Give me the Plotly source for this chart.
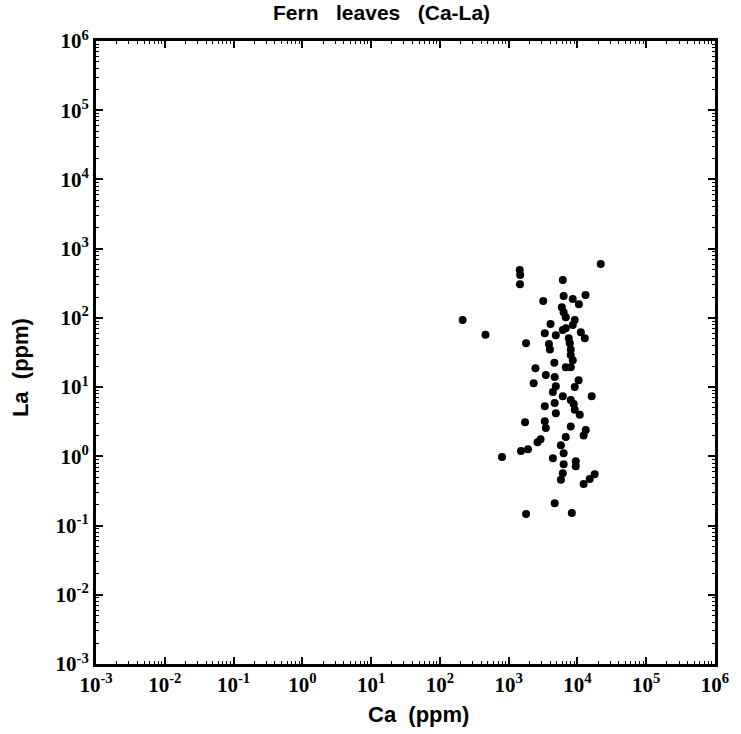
import plotly.graph_objects as go

# Ca and La concentrations (ppm)
ca = [21800, 1450, 1470, 1460, 6120, 6300, 13100, 8550, 3180, 10500,
      5930, 6300, 6760, 9130, 214, 4060, 8550, 6120, 6760, 3350,
      460, 11200, 12800, 4850, 7480, 1790, 3850, 3980, 7740, 8000,
      8000, 8550, 4620, 6760, 8000, 2450, 3470, 4670, 2310, 4850,
      10400, 9130, 4390, 6120, 16100, 8000, 8830, 3350, 4670, 4850,
      9130, 10800, 1730, 3350, 3470, 8000, 13200, 12300, 6760, 2630,
      2910, 5750, 1510, 1910, 6300, 800, 4390, 9460, 9460, 6300,
      6120, 17800, 15100, 5750, 12300, 4670, 8280, 1790]
la = [600, 490, 415, 307, 352, 207, 214, 187, 175, 158,
      143, 121, 102, 93, 93, 81.5, 79, 66.7, 71, 60,
      57, 62, 51, 56, 51, 43, 42, 35, 43, 35,
      29, 24.5, 22.4, 19.4, 19.4, 18.8, 14.9, 14, 11.4, 10.3,
      12.6, 10, 8.5, 7.4, 7.4, 6.5, 5.7, 5.3, 5.9, 4.2,
      4.7, 4.0, 3.1, 3.2, 2.57, 2.7, 2.4, 2.0, 1.9, 1.6,
      1.77, 1.45, 1.19, 1.27, 1.11, 0.98, 0.94, 0.85, 0.72, 0.77,
      0.57, 0.55, 0.47, 0.46, 0.40, 0.21, 0.152, 0.147]

exps = list(range(-3, 7))
tick_vals = [10.0 ** e for e in exps]
tick_text = ["10<sup>%d</sup>" % e for e in exps]

fig = go.Figure()
fig.add_trace(go.Scatter(x=ca, y=la, mode="markers",
                         marker=dict(color="black", size=8), showlegend=False))

tickfont = dict(family="Liberation Serif, Times New Roman, serif", size=21, color="black", weight="bold")
axis_common = dict(
    type="log", range=[-3, 6],
    tickvals=tick_vals, ticktext=tick_text, tickfont=tickfont,
    ticks="inside", ticklen=7, tickwidth=2, tickcolor="black",
    minor=dict(ticks="inside", ticklen=3, tickwidth=1, tickcolor="black",
               tickvals=[m * 10.0 ** e for e in range(-3, 6) for m in range(2, 10)]),
    showline=True, linewidth=3, linecolor="black", mirror="allticks",
    showgrid=False, zeroline=False,
)
fig.update_xaxes(**axis_common)
fig.update_yaxes(**axis_common)

fig.update_layout(
    width=741, height=734,
    margin=dict(l=96, r=23, t=41, b=70),
    plot_bgcolor="white", paper_bgcolor="white",
    annotations=[
        dict(text="<b>Fern   leaves   (Ca-La)</b>", xref="paper", yref="paper",
             x=0.461, y=1.0, yshift=29, xanchor="center", yanchor="middle", showarrow=False,
             font=dict(family="Liberation Sans, Arial", size=21, color="black")),
        dict(text="<b>Ca  (ppm)</b>", xref="paper", yref="paper",
             x=0.521, y=0, yshift=-50, xanchor="center", yanchor="middle", showarrow=False,
             font=dict(family="Liberation Sans, Arial", size=22, color="black")),
        dict(text="<b>La  (ppm)</b>", xref="paper", yref="paper",
             x=0, xshift=-76, y=0.475, xanchor="center", yanchor="middle",
             textangle=-90, showarrow=False,
             font=dict(family="Liberation Sans, Arial", size=22, color="black")),
    ],
)

# drop the default page margin so the figure sits at the window's corner
fig.write_html("out.html", config={"displayModeBar": False},
               post_script="document.body.style.margin='0';")
